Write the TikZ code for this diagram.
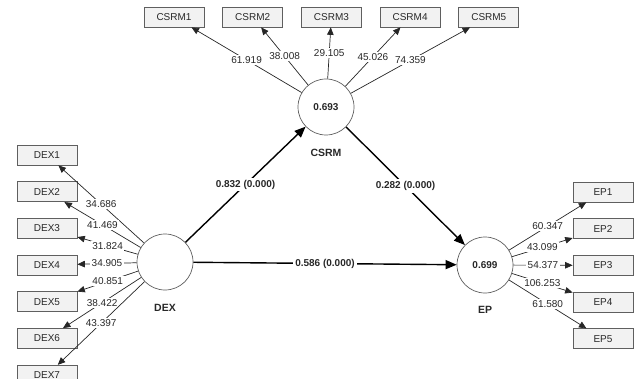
\documentclass[tikz,border=0pt]{standalone}
\usepackage{fontspec}
\setmainfont{Liberation Sans}
\usetikzlibrary{arrows.meta, positioning}
\definecolor{boxgray}{RGB}{242,242,242}
\definecolor{linegray}{RGB}{95,95,95}
\definecolor{textgray}{RGB}{40,40,40}

\begin{document}
\begin{tikzpicture}[
    x=1pt, y=-1pt,
    node distance=16pt and 18pt,
    indicator/.style={rectangle, draw=linegray, fill=boxgray, line width=0.7pt, minimum width=60pt, minimum height=20pt, inner sep=1pt, text=textgray, font=\fontsize{10}{12}\selectfont},
    construct/.style={circle, draw=linegray, fill=white, line width=0.7pt, minimum size=56pt, inner sep=0pt, text=textgray, font=\bfseries\fontsize{10}{12}\selectfont},
    structural/.style={-{Triangle[length=11pt, width=9pt]}, line width=1.4pt},
    loading/.style={-{Triangle[length=7.5pt, width=6.5pt]}, line width=0.7pt, draw=black!85},
    weight/.style={fill=white, inner sep=1.5pt, text=textgray, font=\fontsize{10}{12}\selectfont},
    coef/.style={fill=white, inner sep=2pt, text=textgray, font=\bfseries\fontsize{10}{12}\selectfont},
    lvname/.style={text=textgray, font=\bfseries\fontsize{10.5}{12}\selectfont}
]
\useasboundingbox (0,0) rectangle (639,379);

% Latent variables
\node[construct] (DEX) at (165,262) {};
\node[construct] (CSRM) at (326,107) {0.693};
\node[construct] (EP) at (485,265) {0.699};

\node[lvname, below=10pt of DEX] {DEX};
\node[lvname, below=10pt of CSRM] {CSRM};
\node[lvname, below=9pt of EP] {EP};

% DEX indicators
\node[indicator] (DEX1) at (47,155) {DEX1};
\node[indicator, below=of DEX1] (DEX2) {DEX2};
\node[indicator, below=of DEX2] (DEX3) {DEX3};
\node[indicator, below=of DEX3] (DEX4) {DEX4};
\node[indicator, below=of DEX4] (DEX5) {DEX5};
\node[indicator, below=of DEX5] (DEX6) {DEX6};
\node[indicator, below=of DEX6] (DEX7) {DEX7};

% CSRM indicators
\node[indicator] (CSRM1) at (174,17) {CSRM1};
\node[indicator, right=of CSRM1] (CSRM2) {CSRM2};
\node[indicator, right=of CSRM2] (CSRM3) {CSRM3};
\node[indicator, right=of CSRM3] (CSRM4) {CSRM4};
\node[indicator, right=of CSRM4] (CSRM5) {CSRM5};

% EP indicators
\node[indicator] (EP1) at (603,192) {EP1};
\node[indicator, below=of EP1] (EP2) {EP2};
\node[indicator, below=of EP2] (EP3) {EP3};
\node[indicator, below=of EP3] (EP4) {EP4};
\node[indicator, below=of EP4] (EP5) {EP5};

% Outer loadings
\draw[loading] (DEX) -- node[weight] {34.686} (DEX1);
\draw[loading] (DEX) -- node[weight] {41.469} (DEX2);
\draw[loading] (DEX) -- node[weight] {31.824} (DEX3);
\draw[loading] (DEX) -- node[weight] {34.905} (DEX4);
\draw[loading] (DEX) -- node[weight] {40.851} (DEX5);
\draw[loading] (DEX) -- node[weight] {38.422} (DEX6);
\draw[loading] (DEX) -- node[weight] {43.397} (DEX7);

\draw[loading] (CSRM) -- node[weight] {61.919} (CSRM1);
\draw[loading] (CSRM) -- node[weight] {38.008} (CSRM2);
\draw[loading] (CSRM) -- node[weight] {29.105} (CSRM3);
\draw[loading] (CSRM) -- node[weight] {45.026} (CSRM4);
\draw[loading] (CSRM) -- node[weight] {74.359} (CSRM5);

\draw[loading] (EP) -- node[weight] {60.347} (EP1);
\draw[loading] (EP) -- node[weight] {43.099} (EP2);
\draw[loading] (EP) -- node[weight] {54.377} (EP3);
\draw[loading] (EP) -- node[weight] {106.253} (EP4);
\draw[loading] (EP) -- node[weight] {61.580} (EP5);

% Path coefficients
\draw[structural] (DEX) -- node[coef] {0.832 (0.000)} (CSRM);
\draw[structural] (CSRM) -- node[coef] {0.282 (0.000)} (EP);
\draw[structural] (DEX) -- node[coef] {0.586 (0.000)} (EP);

\end{tikzpicture}
\end{document}
